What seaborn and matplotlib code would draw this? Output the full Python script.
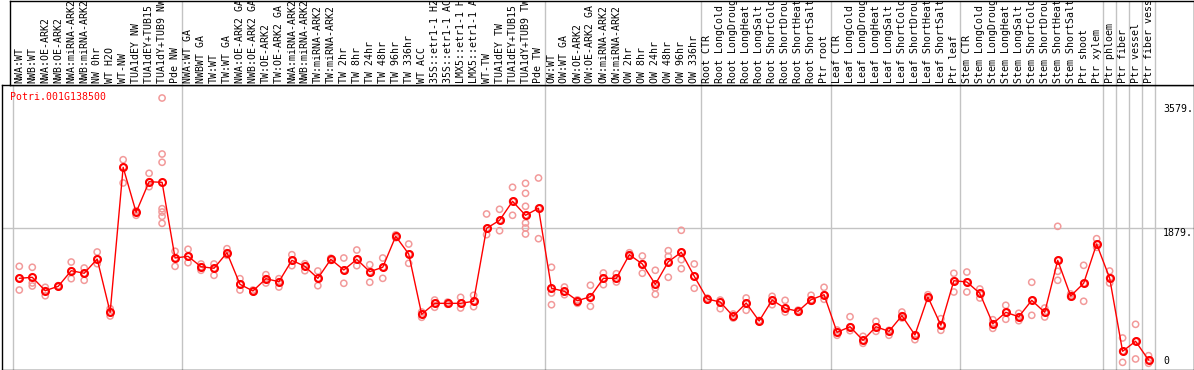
import numpy as np
import pandas as pd
import matplotlib
matplotlib.use("Agg")
import matplotlib.pyplot as plt
import matplotlib.transforms as mtransforms
import seaborn as sns

gene_name = "Potri.001G138500"

sample_labels = [
    # group 1
    "NWA:WT", "NWB:WT", "NWA:OE-ARK2", "NWB:OE-ARK2", "NWA:miRNA-ARK2", "NWB:miRNA-ARK2",
    "NW 0hr", "WT H2O", "WT-NW", "TUA1dEY NW", "TUA1dEY+TUB15 NW", "TUA1dY+TUB9 NW", "Pde NW",
    # group 2
    "NWA:WT GA", "NWBWT GA", "TW:WT", "TW:WT GA", "NWA:OE-ARK2 GA", "NWB:OE-ARK2 GA",
    "TW:OE-ARK2", "TW:OE-ARK2 GA", "NWA:miRNA-ARK2", "NWB:miRNA-ARK2", "TW:miRNA-ARK2",
    "TW:miRNA-ARK2", "TW 2hr", "TW 8hr", "TW 24hr", "TW 48hr", "TW 96hr", "TW 336hr", "WT ACC",
    "35S::etr1-1 H2O", "35S::etr1-1 ACC", "LMX5::etr1-1 H2O", "LMX5::etr1-1 ACC", "WT-TW",
    "TUA1dEY TW", "TUA1dEY+TUB15 TW", "TUA1dY+TUB9 TW", "Pde TW",
    # group 3
    "OW:WT", "OW:WT GA", "OW:OE-ARK2", "OW:OE-ARK2 GA", "OW:miRNA-ARK2", "OW:miRNA-ARK2",
    "OW 2hr", "OW 8hr", "OW 24hr", "OW 48hr", "OW 96hr", "OW 336hr",
    # group 4
    "Root CTR", "Root LongCold", "Root LongDrought", "Root LongHeat", "Root LongSalt",
    "Root ShortCold", "Root ShortDrought", "Root ShortHeat", "Root ShortSalt", "Ptr root",
    # group 5
    "Leaf CTR", "Leaf LongCold", "Leaf LongDrought", "Leaf LongHeat", "Leaf LongSalt",
    "Leaf ShortCold", "Leaf ShortDrought", "Leaf ShortHeat", "Leaf ShortSalt", "Ptr leaf",
    # group 6
    "Stem CTR", "Stem LongCold", "Stem LongDrought", "Stem LongHeat", "Stem LongSalt",
    "Stem ShortCold", "Stem ShortDrought", "Stem ShortHeat", "Stem ShortSalt", "Ptr shoot",
    "Ptr xylem",
    # single tissues
    "Ptr phloem", "Ptr fiber", "Ptr vessel", "Ptr fiber vessel",
]

group_starts = [0, 13, 41, 53, 63, 73, 84, 85, 86, 87]

mean_values = [
    1195, 1209, 1026, 1086, 1299, 1264, 1459, 730, 2713, 2098, 2516, 2508, 1473,
    1496, 1354, 1332, 1545, 1113, 1022, 1190, 1149, 1441, 1359, 1195, 1455, 1309, 1455,
    1286, 1346, 1770, 1528, 703, 853, 853, 853, 881, 1879, 1988, 2248, 2057, 2153,
    1059, 1017, 889, 944, 1195, 1195, 1518, 1391, 1113, 1422, 1551, 1223,
    912, 871, 676, 857, 611, 898, 785, 744, 903, 971,
    457, 533, 347, 533, 470, 684, 420, 940, 553, 1162,
    1145, 990, 574, 730, 670, 894, 730, 1441, 953, 1127, 1664,
    1199, 197, 334, 78,
]

replicate_values = [
    [1359, 1195, 1035], [1346, 1131, 1090], [1072, 1026, 957], [1095, 1080],
    [1418, 1299, 1190], [1336, 1264, 1168], [1555, 1459, 1395], [780, 730, 680],
    [2817, 2713, 2499], [2120, 2098, 2057], [2631, 2516, 2448],
    [3661, 2895, 2782, 2147, 2102, 2043, 1947], [1565, 1473, 1359],
    [1592, 1496, 1409], [1391, 1354, 1305], [1391, 1332, 1236], [1600, 1545, 1510],
    [1190, 1113, 1035], [1035, 1022, 1010], [1245, 1190, 1131], [1190, 1149, 1076],
    [1518, 1441, 1368], [1395, 1359, 1299], [1295, 1195, 1094], [1470, 1455, 1440],
    [1473, 1309, 1127], [1582, 1455, 1368], [1381, 1286, 1141], [1473, 1346, 1195],
    [1790, 1770, 1750], [1664, 1528, 1400], [734, 703, 662], [898, 853, 799],
    [870, 853, 840], [935, 853, 789], [963, 881, 807], [2075, 1879, 1792],
    [2139, 1988, 1846], [2440, 2248, 2057], [2494, 2358, 2180, 2057, 1952, 1883, 1801],
    [2567, 2153, 1737],
    [1346, 1059, 994, 834], [1076, 1017, 971], [900, 889, 853], [1100, 944, 812],
    [1268, 1195, 1108], [1258, 1195, 1145], [1545, 1518, 1500], [1500, 1391, 1264],
    [1305, 1113, 1063, 976], [1573, 1496, 1422, 1209], [1852, 1551, 1450, 1327],
    [1391, 1223, 1059],
    [925, 912, 900], [898, 871, 780], [707, 676, 652], [926, 857, 758], [620, 611, 600],
    [949, 898, 834], [894, 785, 734], [760, 744, 730], [963, 903, 881], [1072, 971, 908],
    [488, 457, 416], [670, 533, 479], [402, 347, 306], [607, 533, 470], [484, 470, 416],
    [734, 684, 652], [420, 356], [971, 940, 920], [643, 553, 484], [1264, 1162, 1008],
    [1281, 1145, 1008], [1049, 990, 926], [629, 574, 511], [826, 730, 635],
    [717, 670, 615], [1141, 894, 689], [789, 730, 666], [1906, 1441, 1291, 1168],
    [981, 953, 940], [1373, 1127, 881], [1737, 1664, 1619],
    [1295, 1199, 1131], [379, 197, 46], [566, 334, 92], [137, 78, 33],
]

tick_values = [3579, 1879, 0]
tick_labels = ["3579.", "1879.", "0"]
grid_value = 1879

# ---------------------------------------------------------------- build data
n = len(sample_labels)
mean_df = pd.DataFrame({"col": np.arange(n), "value": mean_values})
rep_df = pd.DataFrame(
    [(i, v) for i, vals in enumerate(replicate_values) for v in vals],
    columns=["col", "value"],
)

# ---------------------------------------------------------------- figure
sns.set_style("white")
plt.rcParams["font.family"] = ["DejaVu Sans Mono", "DejaVu Sans"]

W, H = 1194, 370
fig = plt.figure(figsize=(W / 100, H / 100), dpi=100)


def px_axes(x0, y0, x1, y1):
    return fig.add_axes([x0 / W, 1 - y1 / H, (x1 - x0) / W, (y1 - y0) / H])


X0, DX = 19.3, 12.98          # pixel centre of column 0, column pitch
Y_ZERO, PX_PER = 365.7, 0.07312

ax = px_axes(2, 85, 1193.5, 369.5)
lab = px_axes(10, 0.5, 1193.5, 85)

ax.set_xlim((2 - X0) / DX, (1193.5 - X0) / DX)
ax.set_ylim(-(369.5 - Y_ZERO) / PX_PER, (Y_ZERO - 85) / PX_PER)
lab.set_xlim((10 - X0) / DX, (1193.5 - X0) / DX)
lab.set_ylim(0, 1)

grey = "#c3c3c3"
bounds = [g - 0.5 for g in group_starts] + [n - 0.5]
for b in bounds:
    ax.axvline(b, color=grey, lw=1.0, zorder=1)
    if b > 0:
        lab.axvline(b, color=grey, lw=1.0, zorder=1)
ax.axhline(grid_value, color=grey, lw=1.0, zorder=1)

# replicates
sns.scatterplot(data=rep_df, x="col", y="value", ax=ax, marker="o", s=20,
                facecolors="none", edgecolor="#f29a9a", linewidth=1.1,
                zorder=3, legend=False)
# means
sns.lineplot(data=mean_df, x="col", y="value", ax=ax, color="#ff0000", lw=1.0,
             marker="o", markersize=5.0, markerfacecolor="none",
             markeredgecolor="#ff0000", markeredgewidth=1.5, zorder=4,
             legend=False)

for a in (ax, lab):
    a.set_xticks([])
    a.set_yticks([])
    a.set_xlabel("")
    a.set_ylabel("")
    for s in a.spines.values():
        s.set_color("black")
        s.set_linewidth(1.0)
        s.set_visible(True)

# sample labels (long ones are clipped at the top edge, as in the original)
tr = mtransforms.blended_transform_factory(lab.transData, lab.transAxes)
for i, name in enumerate(sample_labels):
    lab.text(i, 0.025, name, rotation=90, ha="center", va="bottom",
             fontsize=7.1, color="black", transform=tr, clip_on=True)

# right-side value labels
tr2 = mtransforms.blended_transform_factory(ax.transAxes, ax.transData)
xf = (1163 - 2) / (1193.5 - 2)
for v, t in zip(tick_values, tick_labels):
    ax.text(xf, v, t, ha="left", va="bottom" if v == 0 else "top",
            fontsize=7.1, color="black", transform=tr2)

ax.text((10 - 2) / (1193.5 - 2), 1 - (92 - 85) / 284.5, gene_name, color="#ff0000",
        ha="left", va="top", fontsize=7.1, transform=ax.transAxes)

fig.savefig("out.png", dpi=100)
